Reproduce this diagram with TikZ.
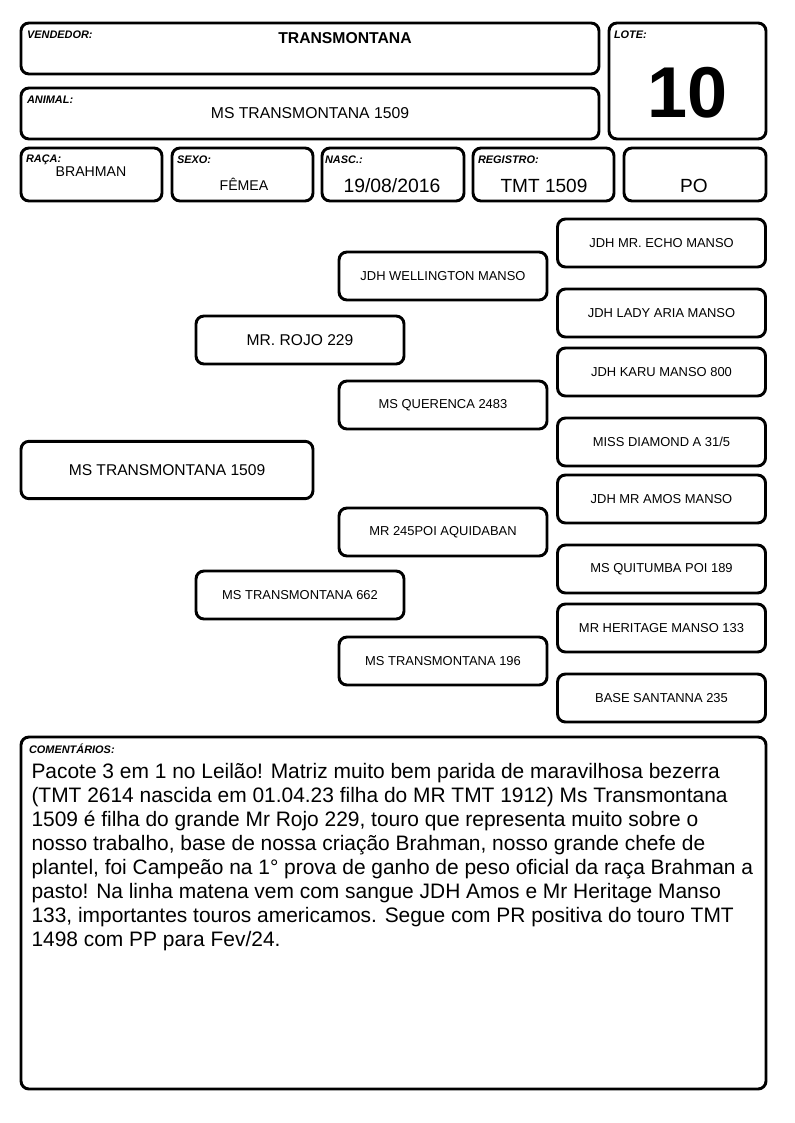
\documentclass[tikz,border=0pt]{standalone}
\usepackage{fontspec}
\setmainfont{Liberation Sans}
\usetikzlibrary{positioning}

\tikzset{every picture/.style={line width=0.75pt}}
\tikzset{
  card/.style={draw, line width=2.2pt, rounded corners=6pt, inner sep=0pt},
  tag/.style={font=\bfseries\itshape\fontsize{8.2}{9}\selectfont, inner sep=0pt, anchor=north west},
  ped/.style={card, minimum width=156pt, minimum height=36pt, font=\fontsize{9.7}{12}\selectfont},
  pedbig/.style={ped, font=\fontsize{11.7}{14}\selectfont}
}

\begin{document}
\begin{tikzpicture}[x=0.75pt,y=0.75pt,yscale=-1,xscale=1]
\useasboundingbox (0,0) rectangle (794,1123);

% header cards
\node [card, minimum width=433.5pt, minimum height=38.25pt] (vendedor) at (310,48.5) {};
\node [card, minimum width=117.75pt, minimum height=87pt] (lote) at (687.5,81) {};
\node [card, minimum width=433.5pt, minimum height=38.25pt] (animal) at (310,113.5) {};
\node [card, minimum width=105.75pt, minimum height=39.75pt] (raca) at (91.5,174.5) {};
\node [card, minimum width=105.75pt, minimum height=39.75pt] (sexo) at (242.5,174.5) {};
\node [card, minimum width=106.5pt, minimum height=39.75pt] (nasc) at (393,174.5) {};
\node [card, minimum width=105.75pt, minimum height=39.75pt] (registro) at (543.5,174.5) {};
\node [card, minimum width=106.5pt, minimum height=39.75pt] (categoria) at (695,174.5) {};

% header tags
\node [tag] at ([shift={(7,9)}]vendedor.north west) {VENDEDOR:};
\node [tag] at ([shift={(6,9)}]lote.north west) {LOTE:};
\node [tag] at ([shift={(7,9)}]animal.north west) {ANIMAL:};
\node [tag] at ([shift={(6,8)}]raca.north west) {RAÇA:};
\node [tag] at ([shift={(6,9)}]sexo.north west) {SEXO:};
\node [tag] at ([shift={(4,9)}]nasc.north west) {NASC.:};
\node [tag] at ([shift={(6,9)}]registro.north west) {REGISTRO:};

% header values
\node [font=\bfseries\fontsize{11.8}{13}\selectfont] at (345,38) {TRANSMONTANA};
\node [font=\bfseries\fontsize{54}{60}\selectfont] at (688,93) {10};
\node [font=\fontsize{11.8}{14}\selectfont] at (310,113) {MS TRANSMONTANA 1509};
\node [font=\fontsize{10.6}{13}\selectfont] at (91,172) {BRAHMAN};
\node [font=\fontsize{10.6}{13}\selectfont] at (244,184) {FÊMEA};
\node [font=\fontsize{14.5}{16}\selectfont] at (392,186) {19/08/2016};
\node [font=\fontsize{14.3}{16}\selectfont] at (544,186) {TMT 1509};
\node [font=\fontsize{14.3}{16}\selectfont] at (694,186) {PO};

% pedigree
\node [pedbig, minimum width=219pt, minimum height=43pt] (animalped) at (167,470) {MS TRANSMONTANA 1509};
\node [pedbig] (pai) at (300,340) {MR. ROJO 229};
\node [ped] (mae) at (300,595) {MS TRANSMONTANA 662};
\node [ped] (avp) at (443,276) {JDH WELLINGTON MANSO};
\node [ped] (avpm) at (443,405) {MS QUERENCA 2483};
\node [ped] (avm) at (443,532) {MR 245POI AQUIDABAN};
\node [ped] (avmm) at (443,661) {MS TRANSMONTANA 196};
\node [ped] (bis1) at (661.5,243) {JDH MR. ECHO MANSO};
\node [ped] (bis2) at (661.5,313) {JDH LADY ARIA MANSO};
\node [ped] (bis3) at (661.5,372) {JDH KARU MANSO 800};
\node [ped] (bis4) at (661.5,442) {MISS DIAMOND A 31/5};
\node [ped] (bis5) at (661.5,499) {JDH MR AMOS MANSO};
\node [ped] (bis6) at (661.5,569) {MS QUITUMBA POI 189};
\node [ped] (bis7) at (661.5,628) {MR HERITAGE MANSO 133};
\node [ped] (bis8) at (661.5,698) {BASE SANTANNA 235};

% comments
\node [card, minimum width=558.75pt, minimum height=264pt] (comentarios) at (393.5,913) {};
\node [tag] at ([shift={(9,8)}]comentarios.north west) {COMENTÁRIOS:};
\node [anchor=north west, inner sep=0pt, align=left, font=\fontsize{15.7}{18}\selectfont] (texto) at (31,763) {%
Pacote 3 em 1 no Leilão! Matriz muito bem parida de maravilhosa bezerra\\
(TMT 2614 nascida em 01.04.23 filha do MR TMT 1912) Ms Transmontana\\
1509 é filha do grande Mr Rojo 229, touro que representa muito sobre o\\
nosso trabalho, base de nossa criação Brahman, nosso grande chefe de\\
plantel, foi Campeão na 1° prova de ganho de peso oficial da raça Brahman a\\
pasto! Na linha matena vem com sangue JDH Amos e Mr Heritage Manso\\
133, importantes touros americamos. Segue com PR positiva do touro TMT\\
1498 com PP para Fev/24.};

\end{tikzpicture}
\end{document}
